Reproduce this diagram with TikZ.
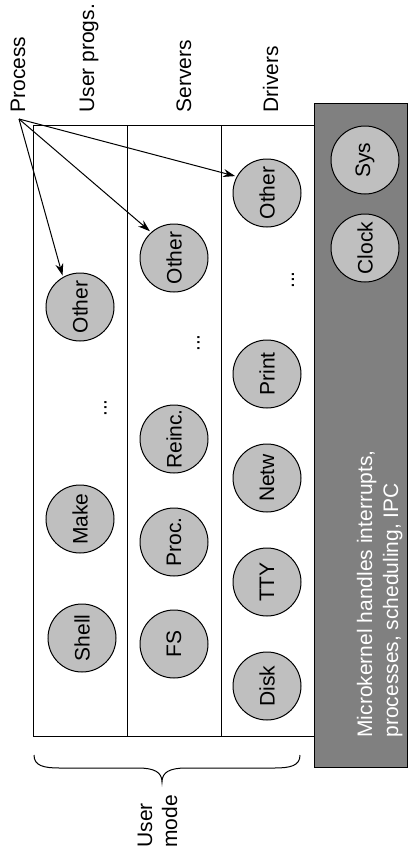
\documentclass[tikz,border=0pt]{standalone}
\usepackage{fontspec}
\setmainfont{Liberation Sans}
\usetikzlibrary{arrows.meta}
\begin{document}
\begin{tikzpicture}[x=1pt,y=-1pt,line width=1pt,
  proc/.style={circle,draw=black,fill=black!25,minimum size=68pt,inner sep=0pt,outer sep=2pt,rotate=90,font=\fontsize{21}{25}\selectfont},
  lbl/.style={rotate=90,anchor=base west,inner sep=0pt,font=\fontsize{21}{25}\selectfont},
  ktext/.style={lbl,text=white},
  vdots/.style={rotate=90,anchor=base,inner sep=0pt,font=\fontsize{21}{25}\selectfont},
  parrow/.style={-{Stealth[length=12pt,width=8pt]}}]
\useasboundingbox (0,0) rectangle (409,857);
% columns
\draw (33,125) rectangle (314,736);
\draw (127,125) -- (127,736);
\draw (221,125) -- (221,736);
% kernel
\draw[fill=black!50] (314,103) rectangle (407,767);
% headers
\node[lbl] (lproc) at (25,113) {Process};
\node[lbl] (luser) at (94,113) {User progs.};
\node[lbl] (lserv) at (191,113) {Servers};
\node[lbl] (ldriv) at (278,113) {Drivers};
% user progs
\node[proc] (uother) at (80,307) {Other};
\node[proc] (make) at (80,519) {Make};
\node[proc] (shell) at (82,638) {Shell};
\node[vdots] (dots1) at (106.5,408) {...};
% servers
\node[proc] (sother) at (174,258) {Other};
\node[proc] (reinc) at (174,439) {Reinc.};
\node[proc] (procn) at (174,542) {Proc.};
\node[proc] (fs) at (174,644) {FS};
\node[vdots] (dots2) at (199.5,343) {...};
% drivers
\node[proc] (dother) at (267,193) {Other};
\node[proc] (print) at (267,374) {Print};
\node[proc] (netw) at (267,478) {Netw};
\node[proc] (tty) at (267,582) {TTY};
\node[proc] (disk) at (267,686) {Disk};
\node[vdots] (dots3) at (294,280) {...};
% kernel
\node[proc] (sys) at (365,160) {Sys};
\node[proc] (clock) at (365,248) {Clock};
\node[ktext] (k1) at (372,738) {Microkernel handles interrupts,};
\node[ktext] (k2) at (398,738) {processes, scheduling, IPC};
% arrows (anchors are in the rotated node frame: actual angle - 90)
\coordinate (P) at (19,119);
\draw[parrow] (P) -- (dother.62);
\draw[parrow] (P) -- (sother.42);
\draw[parrow] (P) -- (uother.29);
% brace
\draw (34,755) .. controls (34,766) and (44,768) .. (60,768) -- (138,768)
  .. controls (154,768) and (162,772) .. (162,782)
  .. controls (162,772) and (170,768) .. (186,768) -- (274,768)
  .. controls (290,768) and (300,766) .. (300,755);
\node[lbl] (um1) at (152,848) {User};
\node[lbl] (um2) at (177,848) {mode};
\end{tikzpicture}
\end{document}
